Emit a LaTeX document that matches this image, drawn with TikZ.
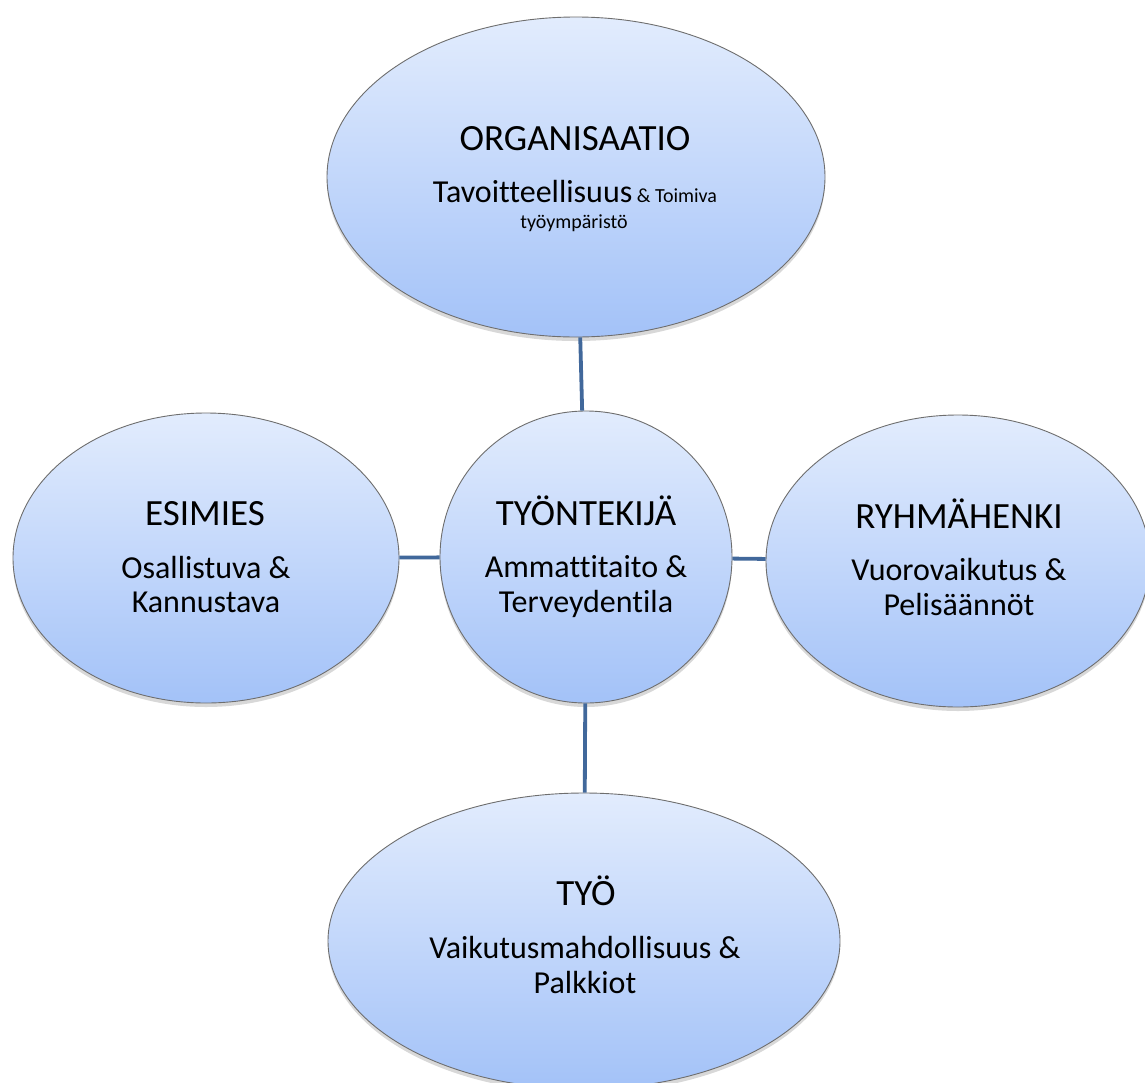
\documentclass[tikz,border=0pt]{standalone}
\usepackage{fontspec}
\setmainfont{Carlito}[Ligatures={NoCommon}]
\usetikzlibrary{shapes.geometric,shadows}
\definecolor{fillTop}{HTML}{E2ECFD}
\definecolor{fillBot}{HTML}{A3C2F8}
\definecolor{rimGray}{HTML}{6E6E6E}
\definecolor{linkBlue}{HTML}{41689B}
\tikzset{
  bubble/.style={ellipse, draw=rimGray, line width=0.9pt, inner sep=0pt,
    top color=fillTop, bottom color=fillBot,
    drop shadow={shadow xshift=0pt, shadow yshift=-4pt, opacity=0.25, fill=black!60}},
  link/.style={draw=linkBlue, line width=3.8pt},
  ttl/.style={anchor=base, inner sep=0pt, font=\fontsize{37}{40}\selectfont},
  txt/.style={anchor=base, inner sep=0pt, font=\fontsize{32}{36}\selectfont},
}
\begin{document}
\begin{tikzpicture}[x=1pt,y=-1pt]
\useasboundingbox (0,0) rectangle (1145,1082);
\clip (0,0) rectangle (1145,1082);
\fill[white] (0,0) rectangle (1145,1082);
% shapes
\node[bubble, minimum width=498pt, minimum height=320pt] (org) at (576,177) {};
\node[bubble, minimum width=386pt, minimum height=290pt] (esi) at (206,558) {};
\node[bubble, minimum width=384pt, minimum height=292pt] (ryh) at (958,561) {};
\node[bubble, minimum width=512pt, minimum height=296pt] (tyo) at (584,941) {};
\node[bubble, minimum width=292pt, minimum height=292pt] (ctr) at (586,557) {};
% connectors
\draw[link] (org) -- (ctr);
\draw[link] (esi) -- (ctr);
\draw[link] (ryh) -- (ctr);
\draw[link] (tyo) -- (ctr);
% texts
\node[ttl] (orgT) at (575,150) {ORGANISAATIO};
\node[anchor=base, inner sep=0pt] (orgA) at (575,202) {{\fontsize{32}{36}\selectfont Tavoitteellisuus}{\fontsize{20}{24}\selectfont\ \& Toimiva}};
\node[anchor=base, inner sep=0pt, font=\fontsize{20}{24}\selectfont] (orgB) at (574,228) {työympäristö};
\node[ttl] (ctrT) at (586,525) {TYÖNTEKIJÄ};
\node[txt] (ctrA) at (586,577) {Ammattitaito \&};
\node[txt] (ctrB) at (586,612) {Terveydentila};
\node[ttl] (esiT) at (205,525) {ESIMIES};
\node[txt] (esiA) at (206,578) {Osallistuva \&};
\node[txt] (esiB) at (206,612) {Kannustava};
\node[ttl] (ryhT) at (959,528) {RYHMÄHENKI};
\node[txt] (ryhA) at (959,580) {Vuorovaikutus \&};
\node[txt] (ryhB) at (959,615) {Pelisäännöt};
\node[ttl] (tyoT) at (586,905) {TYÖ};
\node[txt] (tyoA) at (585,958) {Vaikutusmahdollisuus \&};
\node[txt] (tyoB) at (585,993) {Palkkiot};
\end{tikzpicture}
\end{document}
